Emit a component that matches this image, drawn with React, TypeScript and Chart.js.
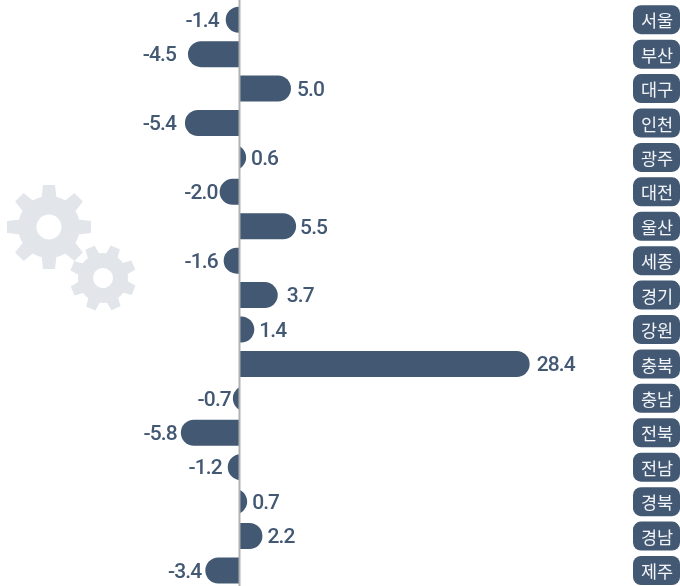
import React, { useEffect, useRef } from "react";
import { Chart, registerables } from "chart.js";

Chart.register(...registerables);

const regions = ["서울", "부산", "대구", "인천", "광주", "대전", "울산", "세종", "경기", "강원", "충북", "충남", "전북", "전남", "경북", "경남", "제주"];
// Bar lengths (부산's bar is drawn longer than its printed -4.5).
const barValues = [-1.4, -5.1, 5.0, -5.4, 0.6, -2.0, 5.5, -1.6, 3.7, 1.4, 28.4, -0.7, -5.8, -1.2, 0.7, 2.2, -3.4];
const printedValues = ["-1.4", "-4.5", "5.0", "-5.4", "0.6", "-2.0", "5.5", "-1.6", "3.7", "1.4", "28.4", "-0.7", "-5.8", "-1.2", "0.7", "2.2", "-3.4"];
const labelGaps = [7, 12, 6, 9, 5, 2, 4, 6, 9, 5, 7, 2, 4, 6, 5, 5, 4];

const NAVY = "#425873";
const GEAR = "#e2e5ea";

function drawGear(ctx: CanvasRenderingContext2D, cx: number, cy: number, outer: number, body: number, hole: number, toothHalf: number, rot: number) {
  ctx.save();
  ctx.translate(cx, cy);
  ctx.rotate(rot);
  ctx.fillStyle = GEAR;
  ctx.beginPath();
  ctx.arc(0, 0, body, 0, Math.PI * 2);
  ctx.arc(0, 0, hole, 0, Math.PI * 2, true);
  ctx.fill();
  for (let i = 0; i < 8; i++) {
    ctx.save();
    ctx.rotate((i * Math.PI) / 4);
    ctx.beginPath();
    ctx.moveTo(-toothHalf * 1.25, -body + 2);
    ctx.lineTo(-toothHalf, -outer);
    ctx.lineTo(toothHalf, -outer);
    ctx.lineTo(toothHalf * 1.25, -body + 2);
    ctx.closePath();
    ctx.fill();
    ctx.restore();
  }
  ctx.restore();
}

const overlay = {
  id: "overlay",
  beforeDatasetsDraw(chart: any) {
    const ctx = chart.ctx;
    drawGear(ctx, 49, 227, 42, 31, 12.5, 6, 0);
    drawGear(ctx, 103, 278, 33, 25, 10, 5, 0.38);
  },
  beforeDatasetDraw(chart: any, args: any) {
    const ctx = chart.ctx as CanvasRenderingContext2D;
    const meta = chart.getDatasetMeta(args.index);
    ctx.save();
    ctx.fillStyle = NAVY;
    meta.data.forEach((el: any) => {
      const { x, y, base, height } = el.getProps(["x", "y", "base", "height"], true);
      const w = Math.abs(x - base);
      const dir = x >= base ? 1 : -1;
      const r = height / 2;
      const cx = x - dir * r;
      ctx.beginPath();
      if (w >= r) {
        ctx.moveTo(base, y - r);
        ctx.lineTo(cx, y - r);
        ctx.arc(cx, y, r, -Math.PI / 2, Math.PI / 2, dir < 0);
        ctx.lineTo(base, y + r);
      } else {
        // short bar: the round cap is cut off by the zero line
        const half = Math.acos((r - w) / r);
        if (dir > 0) ctx.arc(cx, y, r, -half, half);
        else ctx.arc(cx, y, r, Math.PI - half, Math.PI + half);
      }
      ctx.closePath();
      ctx.fill();
    });
    ctx.restore();
    return false;
  },
  afterDatasetsDraw(chart: any) {
    const ctx = chart.ctx as CanvasRenderingContext2D;
    const xs = chart.scales.x;
    const ys = chart.scales.y;
    const zero = xs.getPixelForValue(0);
    ctx.save();
    ctx.strokeStyle = "#aeb0b2";
    ctx.lineWidth = 2;
    ctx.beginPath();
    ctx.moveTo(zero - 0.5, 0);
    ctx.lineTo(zero - 0.5, chart.height);
    ctx.stroke();

    ctx.textBaseline = "middle";
    ctx.font = '500 21px Roboto, sans-serif';
    (ctx as any).letterSpacing = "-0.9px";
    ctx.fillStyle = NAVY;
    barValues.forEach((v, i) => {
      const px = xs.getPixelForValue(v);
      const py = ys.getPixelForValue(i);
      ctx.textAlign = v >= 0 ? "left" : "right";
      ctx.fillText(printedValues[i], px + (v >= 0 ? labelGaps[i] : -labelGaps[i]), py + 2);
    });
    (ctx as any).letterSpacing = "0px";

    regions.forEach((name, i) => {
      const py = ys.getPixelForValue(i);
      ctx.fillStyle = NAVY;
      ctx.beginPath();
      ctx.roundRect(633, py - 14.5, 47, 29, 8);
      ctx.fill();
      ctx.fillStyle = "#f2f4f7";
      ctx.textAlign = "center";
      ctx.font = '400 17.5px "Noto Sans CJK KR", sans-serif';
      ctx.fillText(name, 657, py + 1);
    });
    ctx.restore();
  },
};

export default function App() {
  const ref = useRef<HTMLCanvasElement>(null);
  useEffect(() => {
    document.body.style.margin = "0";
    const chart = new Chart(ref.current!, {
      type: "bar",
      data: {
        labels: regions,
        datasets: [{ data: barValues, backgroundColor: NAVY, barThickness: 26 }],
      },
      plugins: [overlay],
      options: {
        indexAxis: "y",
        animation: false,
        responsive: false,
        devicePixelRatio: 1,
        layout: { padding: { top: 2.5, bottom: 0.3, left: 0, right: 0 } },
        plugins: { legend: { display: false }, tooltip: { enabled: false } },
        scales: {
          x: { display: false, min: -23.53, max: 43.14 },
          y: { display: false },
        },
      },
    } as any);
    return () => chart.destroy();
  }, []);
  return (
    <div style={{ width: 680, height: 586, overflow: "hidden" }}>
      <canvas ref={ref} width={680} height={588} style={{ display: "block" }} />
    </div>
  );
}
